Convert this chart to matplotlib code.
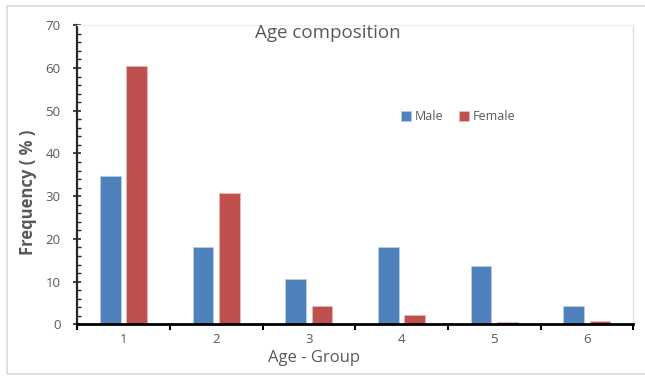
import numpy as np
import matplotlib.pyplot as plt
from matplotlib.patches import Rectangle

# age groups and frequency (%) per sex
groups = [1, 2, 3, 4, 5, 6]
male = [34.7, 18.1, 10.5, 18.0, 13.6, 4.4]
female = [60.4, 30.8, 4.4, 2.1, 0.5, 0.7]

plt.rcParams['font.family'] = ['Open Sans', 'DejaVu Sans']
gris = '#595959'

fig = plt.figure(figsize=(6.45, 3.76), dpi=100)
ax = fig.add_axes([0.1198, 0.1375, 0.8621, 0.7952])

# outer chart border
fig.patches.append(Rectangle((7/645, 2/376), 1.0, 368/376, transform=fig.transFigure,
                             fill=False, edgecolor='#d9d9d9', lw=1.2))

x = np.arange(1, len(groups) + 1)
w = 0.223
d = 0.142
ax.bar(x - d, male, w, color='#4f81bd', edgecolor='#b9cde5', lw=0.6, label='Male')
ax.bar(x + d, female, w, color='#c0504d', edgecolor='#e6b9b8', lw=0.6, label='Female')

ax.set_xlim(0.5, 6.5)
ax.set_ylim(0, 70)
ax.set_yticks(range(0, 71, 10))
ax.set_yticks(range(0, 71, 2), minor=True)
ax.set_xticks(np.arange(0.5, 7, 1))
ax.set_xticklabels([])
ax.set_xticks(x, minor=True)
ax.set_xticklabels([str(g) for g in groups], minor=True)

ax.tick_params(axis='y', which='major', direction='inout', length=6, width=1.2,
               labelsize=9.5, labelcolor=gris, color='#262626', pad=9)
ax.tick_params(axis='y', which='minor', direction='in', length=3, width=1.0, color='#262626')
ax.tick_params(axis='x', which='major', direction='out', length=4, width=1.5, color='black')
ax.tick_params(axis='x', which='minor', length=0, labelsize=9.5, labelcolor=gris, pad=6)

ax.spines['left'].set_linewidth(1.6)
ax.spines['left'].set_color('#262626')
ax.spines['bottom'].set_linewidth(2)
ax.spines['bottom'].set_color('black')
ax.spines['top'].set_color('#f0f0f0')
ax.spines['top'].set_linewidth(1)
ax.spines['right'].set_color('#d5deea')
ax.spines['right'].set_linewidth(1)

fig.text(328/645, 1 - 33/376, 'Age composition', ha='center', va='center',
         fontsize=13.5, color=gris)
fig.text(314/645, 1 - 358/376, 'Age - Group', ha='center', va='center',
         fontsize=12, color=gris)
fig.text(28/645, 1 - 192/376, 'Frequency ( % )', ha='center', va='center',
         rotation=90, fontsize=12, fontweight='bold', color=gris)

ax.legend(loc='center', bbox_to_anchor=(458/645, 1 - 117/376), bbox_transform=fig.transFigure,
          ncol=2, frameon=False, fontsize=9, labelcolor=gris, handlelength=0.8,
          handleheight=0.8, handletextpad=0.3, columnspacing=1.3)

fig.savefig('out.png', dpi=100)
